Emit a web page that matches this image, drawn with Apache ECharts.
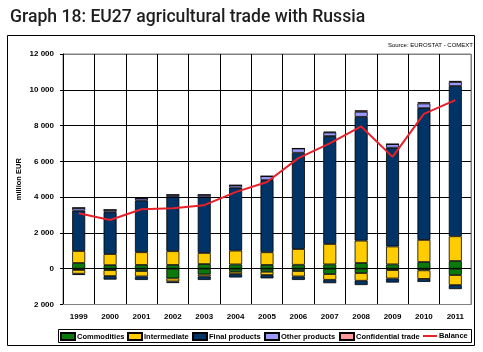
<!DOCTYPE html>
<html>
<head>
<meta charset="utf-8">
<script src="https://cdn.jsdelivr.net/npm/echarts@6/dist/echarts.min.js"></script>
<style>
html,body{margin:0;padding:0;background:#fff;}
#chart{width:483px;height:352px;}
</style>
</head>
<body>
<div id="chart"></div>
<script>
var years = ['1999','2000','2001','2002','2003','2004','2005','2006','2007','2008','2009','2010','2011'];
var commoditiesExports = [320, 200, 210, 210, 260, 240, 210, 220, 243, 318, 243, 374, 430];
var commoditiesImports = [-70, -80, -130, -540, -320, -170, -170, -130, -300, -243, -75, -90, -355];
var intermediateExports = [670, 620, 710, 770, 620, 770, 710, 880, 1140, 1250, 1000, 1236, 1384];
var intermediateImports = [-210, -330, -300, -170, -110, -130, -185, -300, -320, -430, -470, -480, -560];
var finalExports = [2260, 2340, 2900, 3030, 3120, 3525, 4030, 5380, 6030, 6920, 5520, 7365, 8396];
var finalImports = [-70, -200, -200, -90, -200, -190, -185, -200, -190, -240, -230, -170, -225];
var otherExports = [150, 130, 130, 120, 130, 130, 220, 240, 200, 280, 200, 260, 225];
var confidentialExports = [0, 0, 0, 0, 0, 0, 0, 0, 40, 90, 0, 70, 60];
var balance = [3100, 2720, 3320, 3380, 3550, 4280, 4850, 6180, 7000, 7950, 6250, 8650, 9420];
var yTicks = {min: -2000, max: 12000, interval: 2000};
var legendNames = ['Commodities', 'Intermediate', 'Final products', 'Other products', 'Confidential trade', 'Balance'];

var COL = {com:'#0a7a0a', int:'#ffcc00', fin:'#003366', oth:'#9999ff', conf:'#ff9999', bal:'#e8202a'};
var FONT = 'Liberation Sans, Arial, sans-serif';

function bar(name, data, color) {
  return {
    name: name, type: 'bar', stack: 'trade', data: data, barWidth: 13,
    itemStyle: {color: color, borderColor: '#000', borderWidth: 0.8},
    emphasis: {disabled: true}
  };
}
function fmt(v) {
  return Math.abs(v).toString().replace(/\B(?=(\d{3})+(?!\d))/g, ' ');
}
var ySplitColors = ['#808080','#000','#000','#000','#000','#000','#000','#808080'];
var xSplitColors = [];
for (var i = 0; i <= years.length; i++) xSplitColors.push(i === years.length ? '#808080' : '#000');

// one legend component per entry, placed like the original legend
var legendLeft = [60, 127, 192, 264, 339, 423];
var legends = legendNames.map(function (n, k) {
  return {
    left: legendLeft[k], top: 332, padding: 0,
    itemWidth: 14, itemHeight: 7, itemGap: 0,
    symbolKeepAspect: true,
    textStyle: {fontFamily: FONT, fontWeight: 'bold', fontSize: 7.5, color: '#000', padding: [0, 0, 0, -3]},
    data: [k < 5 ? {name: n, icon: 'rect'} : {name: n, icon: 'path://M0,0 L14,0 L14,2 L0,2 Z'}]
  };
});

var chart = echarts.init(document.getElementById('chart'), null, {renderer: 'canvas'});
chart.setOption({
  animation: false,
  backgroundColor: '#fff',
  title: {
    text: 'Graph 18: EU27 agricultural trade with Russia',
    left: 5, top: 4,
    textStyle: {fontFamily: 'Roboto, sans-serif', fontWeight: 500, fontSize: 17.6, color: '#1e1e1e'}
  },
  graphic: [
    {type: 'rect', shape: {x: 7.5, y: 35.5, width: 467, height: 310},
     style: {fill: 'none', stroke: '#000', lineWidth: 1}, z: -1, silent: true},
    {type: 'rect', shape: {x: 58.5, y: 329.5, width: 413, height: 13},
     style: {fill: 'none', stroke: '#000', lineWidth: 1}, z: -1, silent: true},
    {type: 'text', right: 10, top: 42,
     style: {text: 'Source: EUROSTAT - COMEXT', fontSize: 6, fontFamily: FONT, fill: '#000'}}
  ],
  grid: {left: 63, right: 12, top: 54, bottom: 47.5, show: true, borderColor: '#808080', borderWidth: 1},
  legend: legends,
  xAxis: {
    type: 'category', data: years, boundaryGap: true,
    axisLine: {onZero: false, lineStyle: {color: '#808080'}},
    axisTick: {show: false},
    axisLabel: {margin: 8, fontFamily: FONT, fontWeight: 'bold', fontSize: 8, color: '#000', interval: 0},
    splitLine: {show: true, interval: 0, lineStyle: {color: xSplitColors, width: 1}}
  },
  yAxis: {
    type: 'value', min: yTicks.min, max: yTicks.max, interval: yTicks.interval,
    name: 'million EUR', nameLocation: 'middle', nameGap: 40, nameRotate: 90,
    nameMoveOverlap: false,
    nameTextStyle: {fontFamily: FONT, fontWeight: 'bold', fontSize: 7.5, color: '#000'},
    axisLine: {show: true, lineStyle: {color: '#000'}},
    axisTick: {show: true, length: 3, lineStyle: {color: '#000'}},
    axisLabel: {margin: 9, formatter: fmt, fontFamily: FONT, fontWeight: 'bold', fontSize: 8, color: '#000'},
    splitLine: {show: true, lineStyle: {color: ySplitColors, width: 1}}
  },
  series: [
    bar('Commodities', commoditiesExports, COL.com),
    bar('Intermediate', intermediateExports, COL.int),
    bar('Final products', finalExports, COL.fin),
    bar('Other products', otherExports, COL.oth),
    bar('Confidential trade', confidentialExports, COL.conf),
    bar('Commodities', commoditiesImports, COL.com),
    bar('Intermediate', intermediateImports, COL.int),
    bar('Final products', finalImports, COL.fin),
    {name: 'Balance', type: 'line', data: balance, symbol: 'none', z: 5,
     lineStyle: {color: COL.bal, width: 2}, itemStyle: {color: COL.bal}}
  ]
});
</script>
</body>
</html>
